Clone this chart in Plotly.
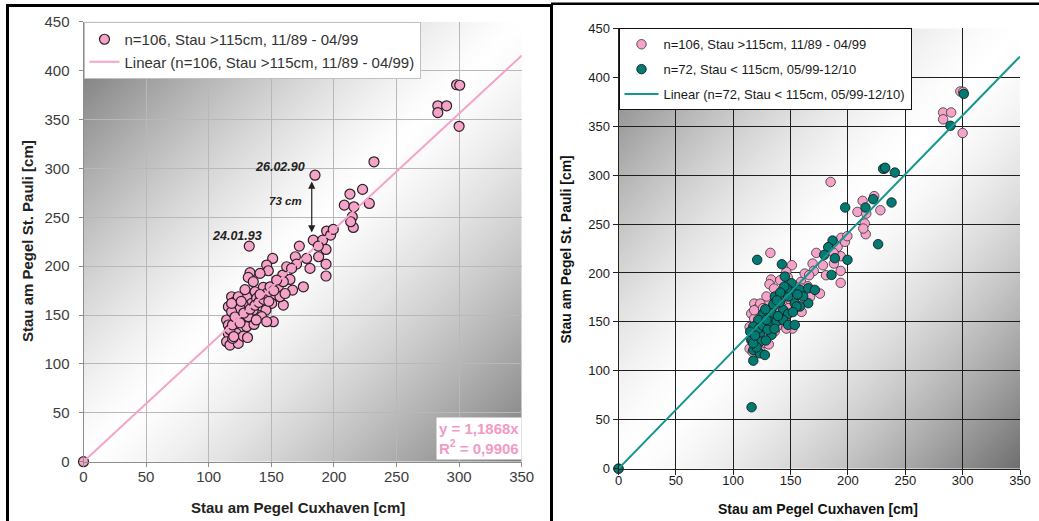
import zlib, struct, base64
import plotly.graph_objects as go

# ---------------- data ----------------
PINK_X = [0,
    298, 300.5, 283, 290, 283, 300,
    232, 184.9, 212.8, 222.9, 208.3, 216, 228.3, 214.7, 215.5, 213.4,
    132.4, 183.5, 194.2, 191, 197.4, 172.4, 193.7, 187.8, 193.7, 193.7,
    180.9, 169.2, 170.2, 151.1, 146.3, 147.6, 133, 131.6, 159.1, 164.9,
    175.6, 167, 155.6, 159.6, 143.6, 137, 118.3, 115.7, 130.3, 134.3,
    151.6, 150.3, 159.6, 145.7, 139.6, 114.3, 122.3, 126.3, 151.6, 130.3,
    136.2, 142.3, 115.7, 114.3, 117, 123.6, 122.3, 119.1, 127.6, 135.6,
    127.6, 121, 138.3, 146.3, 156.9, 162.3, 166.2, 141, 149, 125,
    118.3, 115.7, 131.6, 146.3, 121, 123.6, 118.3, 154.3, 135.6, 178.2,
    199.5, 187.5,
    117, 119, 121, 125, 128, 133, 137, 140, 144, 148, 152, 141, 129, 126, 120, 131, 138, 161]
PINK_Y = [0,
    385.5, 385, 364, 364, 357, 343,
    306.7, 293, 273.7, 278.5, 262.4, 260.7, 264.1, 250.5, 239.6, 245.4,
    220.5, 226.6, 235.9, 226.6, 231.8, 220.5, 217.1, 209.6, 202.1, 189.9,
    197.7, 209.6, 202.1, 207.9, 201.1, 195.3, 193.3, 188.5, 190.9, 186.4,
    178.9, 175.5, 178.9, 184.1, 178.3, 173.8, 168.7, 158.5, 168.7, 161.9,
    170.4, 161.9, 160.2, 155.1, 150, 144.9, 151.7, 146.6, 143.2, 138.1,
    140.4, 148.3, 131.2, 122.7, 119.3, 121, 131.2, 126.1, 128.5, 155.1,
    160.2, 163.6, 167, 172.1, 168.7, 199.4, 197.7, 192.6, 178.9, 156.8,
    153.4, 139.8, 148.3, 143.2, 143.2, 168.7, 161.9, 185.8, 184.1, 207.9,
    237.6, 220.5,
    135, 140, 148, 142, 152, 156, 160, 163, 166, 164, 175, 171, 176, 164, 128, 127, 145, 172]

TEAL_X = [0,
    230.7, 232.5, 240.9, 197.6, 215.3, 222, 238, 226.3, 186.6, 182.8,
    179.3, 188.6, 199.6, 185.7, 120.9, 142.4, 145, 150.8, 150.3, 158.1,
    165.4, 171.2, 136.3, 147.9, 153.7, 165.4, 134.9, 143.6, 147.9, 126.2,
    133.4, 121.8, 132, 137.8, 143.6, 117.5, 123.3, 133.4, 116, 123.3,
    117.5, 123.3, 127.6, 117.5, 158.1, 146.5, 301, 289.4, 116, 114.8,
    120.4, 155.2, 147.9, 153.7, 122.4, 117.4, 140.5, 128, 139, 126,
    161, 144.5, 141, 130, 119, 156, 136, 152, 128.5, 135,
    129, 138]
TEAL_Y = [0,
    306.4, 307.5, 302.6, 266.9, 266.9, 275.4, 272, 229.4, 233.1, 226.3,
    218.5, 215.1, 213.4, 198, 213.4, 208.9, 196.3, 189.5, 181, 182.7,
    184.4, 182.7, 175.9, 175.9, 169.1, 169.1, 165.7, 162.2, 158.2, 158.8,
    158.8, 152, 150.3, 150.3, 152, 145.2, 138.4, 136.7, 131.6, 129.9,
    121.3, 117.9, 116.2, 110.4, 165.7, 184.4, 383, 350.4, 62.8, 140,
    124, 165.6, 146.9, 146.9, 143.5, 128.2, 170, 163, 156, 146,
    176, 186, 180, 142, 136, 178, 143, 160, 131, 168,
    152, 172]

SLOPE_LEFT, R2_LEFT = 1.1868, 0.9906
SLOPE_RIGHT, R2_RIGHT = 1.2034, 0.9118
X_MAX, Y_MAX = 350, 450
TICK_STEP = 50

NAME_PINK = "n=106, Stau >115cm, 11/89 - 04/99"
NAME_TEAL = "n=72, Stau < 115cm, 05/99-12/10"
NAME_LIN_L = "Linear (n=106, Stau >115cm, 11/89 - 04/99)"
NAME_LIN_R = "Linear (n=72, Stau < 115cm, 05/99-12/10)"
Y_TITLE = "Stau am Pegel St. Pauli [cm]"
X_TITLE = "Stau am Pegel Cuxhaven [cm]"

# ---------------- styling ----------------
W, H = 1039, 521
FONT = "Liberation Sans, Arial, sans-serif"
PINK = "#f5a3c8"
TEAL = "#007a72"
TEAL_LINE = "#16968e"
R2_GREEN = "#3a9d6b"


def make_png(w, h, fn):
    raw = bytearray()
    for j in range(h):
        raw.append(0)
        for i in range(w):
            g = fn(i / (w - 1), j / (h - 1))
            g = max(0, min(255, int(round(g))))
            raw += bytes((g, g, g))

    def chunk(t, d):
        c = struct.pack('>I', len(d)) + t + d
        return c + struct.pack('>I', zlib.crc32(t + d) & 0xffffffff)
    png = (b'\x89PNG\r\n\x1a\n'
           + chunk(b'IHDR', struct.pack('>IIBBBBB', w, h, 8, 2, 0, 0, 0))
           + chunk(b'IDAT', zlib.compress(bytes(raw), 9))
           + chunk(b'IEND', b''))
    return 'data:image/png;base64,' + base64.b64encode(png).decode()


def grad(c0, c1, p):
    def f(u, v):
        t = (u + v) / 2
        if t < 0.5:
            return 255 - (255 - c0) * (1 - t / 0.5) ** p
        return 255 - (255 - c1) * ((t - 0.5) / 0.5) ** p
    return f


GRAD_L = make_png(120, 120, grad(112, 125, 1.3))
GRAD_R = make_png(120, 120, grad(115, 112, 1.5))


def px(x):
    return x / W


def py(y):
    return 1 - y / H


ticks_x = list(range(0, X_MAX + 1, TICK_STEP))
ticks_y = list(range(0, Y_MAX + 1, TICK_STEP))

fig = go.Figure()

# left panel
fig.add_trace(go.Scatter(
    x=PINK_X, y=PINK_Y, mode="markers", name=NAME_PINK, xaxis="x", yaxis="y",
    legend="legend", legendgroup="l1", cliponaxis=False,
    marker=dict(size=10, color=PINK, line=dict(color="#2a2025", width=1.2))))
fig.add_trace(go.Scatter(
    x=[0, X_MAX], y=[0, SLOPE_LEFT * X_MAX], mode="lines", name=NAME_LIN_L,
    xaxis="x", yaxis="y", legend="legend", legendgroup="l2",
    line=dict(color=PINK, width=2)))

# right panel
fig.add_trace(go.Scatter(
    x=PINK_X, y=PINK_Y, mode="markers", name=NAME_PINK, xaxis="x2", yaxis="y2",
    legend="legend2", legendgroup="r1", cliponaxis=False,
    marker=dict(size=9.5, color=PINK, line=dict(color="#333", width=0.8))))
fig.add_trace(go.Scatter(
    x=TEAL_X, y=TEAL_Y, mode="markers", name=NAME_TEAL, xaxis="x2", yaxis="y2",
    legend="legend2", legendgroup="r2", cliponaxis=False,
    marker=dict(size=9.5, color=TEAL, line=dict(color="#111", width=0.8))))
fig.add_trace(go.Scatter(
    x=[0, X_MAX], y=[0, SLOPE_RIGHT * X_MAX], mode="lines", name=NAME_LIN_R,
    xaxis="x2", yaxis="y2", legend="legend2", legendgroup="r3",
    line=dict(color=TEAL_LINE, width=2)))

axL = dict(range=[0, X_MAX], tickvals=ticks_x, showgrid=True, gridcolor="#b8b8b8",
           gridwidth=1, showline=True, linecolor="#8c8c8c", ticks="outside",
           ticklen=4, tickcolor="#8c8c8c", zeroline=False,
           tickfont=dict(family=FONT, size=15, color="#3c3c3c"), fixedrange=True)
axR = dict(showgrid=True, gridcolor="#1e1e1e", gridwidth=1, showline=True,
           linecolor="#222", ticks="outside", ticklen=5, tickcolor="#222",
           zeroline=False, tickfont=dict(family=FONT, size=13, color="#1a1a1a"),
           fixedrange=True)

fig.update_layout(
    width=W, height=H, margin=dict(l=0, r=0, t=0, b=0, pad=0, autoexpand=False),
    paper_bgcolor="white", plot_bgcolor="rgba(0,0,0,0)",
    font=dict(family=FONT),
    hovermode=False,
    xaxis=dict(axL, domain=[px(83.5), px(521.7)], anchor="y", ticklabelstandoff=-3),
    yaxis=dict(axL, range=[0, Y_MAX], tickvals=ticks_y,
               domain=[py(461.7), py(21.7)], anchor="x", ticklabelstandoff=6),
    xaxis2=dict(axR, range=[0, X_MAX], tickvals=ticks_x,
                domain=[px(618.5), px(1020)], anchor="y2", ticklabelstandoff=-5),
    yaxis2=dict(axR, range=[0, Y_MAX], tickvals=ticks_y,
                domain=[py(468.7), py(28.3)], anchor="x2"),
    legend=dict(x=px(83.5), y=py(22), xanchor="left", yanchor="top",
                bgcolor="white", bordercolor="#c0c0c0", borderwidth=1,
                font=dict(family=FONT, size=15, color="#333"),
                tracegroupgap=0, itemwidth=30),
    legend2=dict(x=px(618.5), y=py(28.3), xanchor="left", yanchor="top",
                 bgcolor="white", bordercolor="#111", borderwidth=1,
                 font=dict(family=FONT, size=13, color="#1a1a1a"),
                 tracegroupgap=5, itemwidth=34),
    images=[
        dict(source=GRAD_L, xref="x", yref="y", x=0, y=Y_MAX, sizex=X_MAX,
             sizey=Y_MAX, sizing="stretch", layer="below",
             xanchor="left", yanchor="top"),
        dict(source=GRAD_R, xref="x2", yref="y2", x=0, y=Y_MAX, sizex=X_MAX,
             sizey=Y_MAX, sizing="stretch", layer="below",
             xanchor="left", yanchor="top"),
    ],
)

fmt = lambda v: f"{v:.4f}".replace(".", ",")

ann = []
# axis titles
ann.append(dict(text=f"<b>{Y_TITLE}</b>", textangle=-90, xref="paper", yref="paper",
                x=px(28), y=py(241), xanchor="center", yanchor="middle", showarrow=False,
                font=dict(family=FONT, size=15, color="#222")))
ann.append(dict(text=f"<b>{X_TITLE}</b>", xref="paper", yref="paper",
                x=px(297.5), y=py(507), xanchor="center", yanchor="middle", showarrow=False,
                font=dict(family=FONT, size=15, color="#222")))
ann.append(dict(text=f"<b>{Y_TITLE}</b>", textangle=-90, xref="paper", yref="paper",
                x=px(565), y=py(249.5), xanchor="center", yanchor="middle", showarrow=False,
                font=dict(family=FONT, size=14, color="#111")))
ann.append(dict(text=f"<b>{X_TITLE}</b>", xref="paper", yref="paper",
                x=px(818), y=py(509), xanchor="center", yanchor="middle", showarrow=False,
                font=dict(family=FONT, size=14, color="#111")))
# regression boxes
ann.append(dict(text=f"<b>y = {fmt(SLOPE_LEFT)}x<br>R<sup>2</sup> = {fmt(R2_LEFT)}</b>",
                xref="x", yref="y", x=X_MAX, y=1.5, xanchor="right", yanchor="bottom",
                showarrow=False, align="left", bgcolor="white", borderpad=2,
                font=dict(family=FONT, size=15, color="#f39ac4")))
ann.append(dict(text=f"<b>y = {fmt(SLOPE_RIGHT)}x<br>R² = {fmt(R2_RIGHT)}</b>",
                xref="x2", yref="y2", x=X_MAX + 2.5, y=12, xanchor="right",
                yanchor="bottom", showarrow=False, align="left", bgcolor="white",
                borderpad=1, font=dict(family=FONT, size=14, color=R2_GREEN)))
# event annotations (left)
ann.append(dict(text="<b><i>26.02.90</i></b>", xref="x", yref="y", x=157, y=301.3,
                showarrow=False, font=dict(family=FONT, size=12.5, color="#222")))
ann.append(dict(text="<b><i>73 cm</i></b>", xref="x", yref="y", x=161.5, y=266.6,
                showarrow=False, font=dict(family=FONT, size=11.5, color="#222")))
ann.append(dict(text="<b><i>24.01.93</i></b>", xref="x", yref="y", x=122.8, y=230.4,
                showarrow=False, font=dict(family=FONT, size=12.5, color="#222")))
ann.append(dict(text="", xref="x", yref="y", x=182.3, y=286.6, axref="x", ayref="y",
                ax=182.3, ay=233, showarrow=True, arrowhead=2, arrowside="end+start",
                arrowsize=1.2, arrowwidth=1.2, arrowcolor="#222"))
fig.update_layout(annotations=ann)

# panel frames
fig.update_layout(shapes=[
    dict(type="rect", xref="paper", yref="paper", x0=px(7.5), x1=px(551.5),
         y0=-0.05, y1=py(5.5), line=dict(color="black", width=3)),
    dict(type="line", xref="paper", yref="paper", x0=px(551), x1=1.0,
         y0=py(3.8), y1=py(3.8), line=dict(color="black", width=2.5)),
])

fig.write_html("out.html", config={"displayModeBar": False},
               post_script="document.body.style.margin='0';"
                           "document.body.style.overflow='hidden';")
